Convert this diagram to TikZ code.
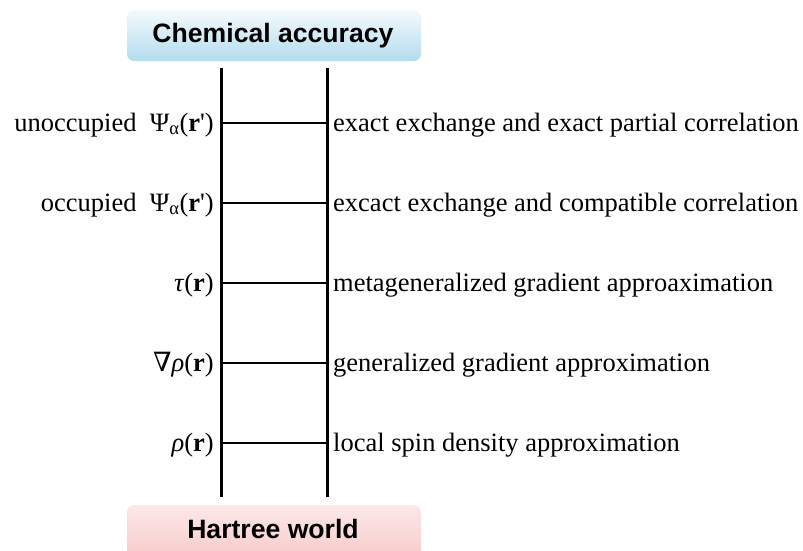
\documentclass[tikz,border=0pt]{standalone}
\usepackage{fontspec}
\setmainfont{Liberation Serif}
\setsansfont{Liberation Sans}
\newfontfamily\symfont{DejaVu Serif}
\definecolor{topblue}{HTML}{B3DCEE}
\definecolor{topwhite}{HTML}{F4FAFD}
\definecolor{botpink}{HTML}{F7CACA}
\definecolor{botwhite}{HTML}{FCE8E8}
\tikzset{
  rail/.style={line width=3pt},
  rung/.style={line width=2.6pt},
  lefttext/.style={anchor=base east, inner sep=0pt, font=\fontsize{26.5}{30}\selectfont},
  righttext/.style={anchor=base west, inner sep=0pt, font=\fontsize{26.5}{30}\selectfont},
  titletext/.style={inner sep=0pt, font=\fontsize{26.6}{30}\selectfont\sffamily\bfseries}
}
\begin{document}
\begin{tikzpicture}[x=1pt, y=-1pt]
        \useasboundingbox (0, 0) rectangle (803, 550);

        % end boxes
        \shade[top color=topwhite, bottom color=topblue, rounded corners=7pt] (127, 10) rectangle (421, 61);
        \shade[top color=botwhite, bottom color=botpink, rounded corners=7pt] (127, 505) rectangle (421, 560);
        \node[titletext] (chem) at (273, 36) {Chemical accuracy};
        \node[titletext] (hartree) at (273, 529) {Hartree world};

        % rails
        \draw[rail] (221, 68) -- (221, 497);
        \draw[rail] (327, 68) -- (327, 497);

        % rungs
        \draw[rung] (221, 123) -- (327, 123);
        \draw[rung] (221, 203) -- (327, 203);
        \draw[rung] (221, 283) -- (327, 283);
        \draw[rung] (221, 363) -- (327, 363);
        \draw[rung] (221, 443) -- (327, 443);

        % ingredients
        \node[lefttext] (unocc) at (214, 131) {unoccupied\ \ Ψ\textsubscript{α}(\textbf{r}\textquotesingle)};
        \node[lefttext] (occ) at (214, 211) {occupied\ \ Ψ\textsubscript{α}(\textbf{r}\textquotesingle)};
        \node[lefttext] (tau) at (214, 291) {\textit{τ}(\textbf{r})};
        \node[lefttext] (grad) at (214, 371) {{\symfont ∇}\textit{ρ}(\textbf{r})};
        \node[lefttext] (rho) at (214, 451) {\textit{ρ}(\textbf{r})};

        % approximations
        \node[righttext] (hyper) at (333, 131) {exact exchange and exact partial correlation};
        \node[righttext] (hybrid) at (333, 211) {excact exchange and compatible correlation};
        \node[righttext] (mgga) at (333, 291) {metageneralized gradient approaximation};
        \node[righttext] (gga) at (333, 371) {generalized gradient approximation};
        \node[righttext] (lsda) at (333, 451) {local spin density approximation};
\end{tikzpicture}
\end{document}
